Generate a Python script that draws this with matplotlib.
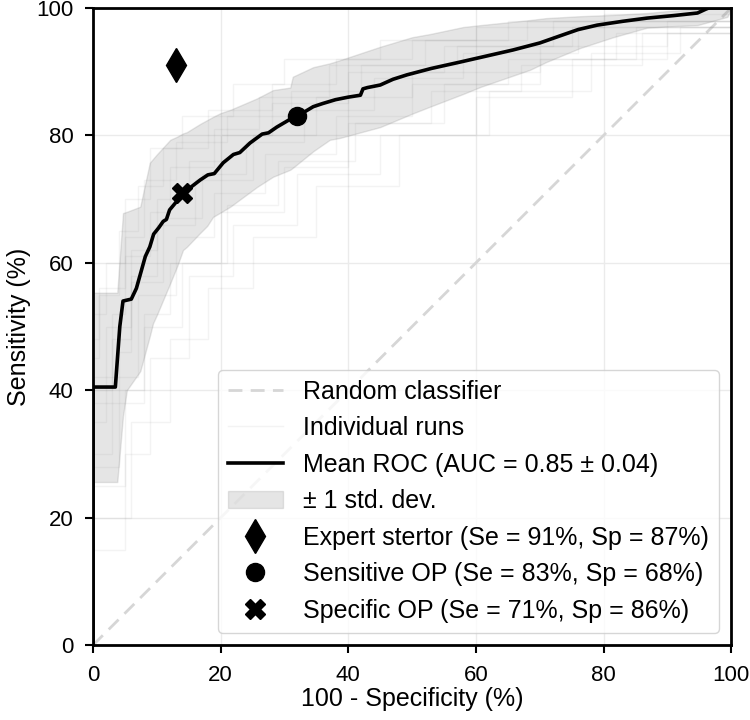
import matplotlib
matplotlib.use("Agg")
import matplotlib.pyplot as plt
import numpy as np

plt.rcParams['font.family'] = ['Liberation Sans', 'DejaVu Sans']

# Mean ROC curve (100 - specificity %, sensitivity %)
mean_fpr = [0, 0, 3.5, 4.2, 4.7, 6.0, 6.8, 7.5, 8.2, 8.9, 9.5, 10.3, 11, 11.5, 12, 13,
            14.4, 15.5, 16.8, 18, 19, 20.4, 22, 23, 24.6, 26.5, 27.5, 28.8, 30.5, 32,
            33, 34.5, 36, 38, 40, 41.9, 42.3, 43, 45, 47, 49.2, 53, 57.5, 61, 65.8,
            70, 73.7, 76, 79, 83, 86.8, 91, 94.7, 96, 96.5, 100]
mean_tpr = [0, 40.5, 40.5, 50, 54, 54.3, 56, 58.5, 61, 62.5, 64.5, 65.5, 66.5, 66.8,
            68.3, 69.5, 71, 72, 73, 73.8, 74, 75.7, 77, 77.3, 78.8, 80.2, 80.4, 81.3,
            82.3, 83.2, 83.6, 84.5, 85, 85.6, 86, 86.3, 87.3, 87.5, 87.9, 88.8, 89.5,
            90.5, 91.5, 92.3, 93.4, 94.5, 95.8, 96.6, 97.3, 97.9, 98.4, 98.8, 99.2,
            99.8, 100, 100]

# +/- 1 std band
band_fpr = [0, 3.8, 4.7, 5.3, 7.4, 8.9, 9.4, 10, 12.1, 13.2, 14.1, 14.7, 16.8, 17.9,
            18.8, 20, 21.5, 25.7, 28.2, 30.9, 31.3, 34.5, 37.1, 38.7, 45, 50, 52.8,
            58, 60.7, 68.5, 71, 76.3, 81.5, 86.8, 90, 94.7, 99.4, 100]
band_upper = [55.3, 55.3, 67.8, 68.0, 68.8, 75.7, 76.3, 77, 79.3, 79.8, 80.3, 80.5,
              81.8, 82.4, 82.9, 83.5, 84.0, 85.8, 87.1, 87.5, 89.2, 90.7, 91.3, 91.8,
              93.9, 95.4, 95.9, 97, 97.3, 98.1, 98.4, 98.7, 98.9, 99.2, 99.5, 99.8,
              100, 100]
band_lower = [25.6, 25.6, 36, 40, 43, 48.5, 50.5, 51.8, 56.8, 59.5, 62, 62.5, 64.7,
              65.8, 67.2, 67.9, 68.8, 71.9, 73.5, 74.6, 74.9, 77.5, 79.3, 79.6, 81.3,
              83.4, 84.5, 86.5, 87.6, 90.3, 91.5, 93.7, 95.4, 96.9, 97.1, 97.3, 98.6,
              100]

# Individual cross-validation runs (step curves)
runs_fpr = [
    [0, 0, 2, 5, 9, 14, 22, 30, 45, 60, 80, 100],
    [0, 0, 3, 6, 10, 16, 25, 35, 50, 70, 90, 100],
    [0, 0, 4, 8, 12, 20, 30, 40, 55, 70, 85, 100],
    [0, 0, 5, 9, 15, 22, 32, 45, 60, 75, 90, 100],
    [0, 0, 1, 4, 7, 11, 18, 28, 38, 50, 65, 100],
    [0, 0, 6, 12, 18, 25, 35, 48, 62, 78, 92, 100],
    [0, 0, 2, 6, 10, 15, 20, 28, 40, 55, 75, 100],
    [0, 0, 3, 7, 13, 19, 27, 38, 50, 65, 82, 100],
    [0, 0, 4, 6, 11, 17, 24, 33, 44, 58, 76, 100],
    [0, 0, 1, 5, 8, 13, 21, 31, 42, 57, 72, 100],
    [0, 0, 3, 5, 9, 12, 19, 26, 37, 52, 68, 100],
    [0, 0, 5, 8, 14, 21, 29, 41, 53, 67, 86, 100],
]
runs_tpr = [
    [0, 52, 60, 70, 78, 83, 88, 92, 95, 97, 99, 100],
    [0, 40, 48, 58, 66, 73, 80, 86, 90, 94, 98, 100],
    [0, 28, 38, 52, 60, 68, 75, 82, 88, 92, 97, 100],
    [0, 15, 30, 45, 58, 66, 74, 80, 86, 92, 96, 100],
    [0, 45, 55, 65, 72, 78, 84, 88, 92, 95, 98, 100],
    [0, 20, 35, 48, 56, 64, 72, 80, 87, 93, 97, 100],
    [0, 35, 50, 62, 70, 76, 80, 85, 90, 94, 97, 100],
    [0, 30, 42, 55, 64, 71, 77, 83, 88, 92, 96, 100],
    [0, 38, 46, 57, 67, 74, 79, 84, 89, 93, 97, 100],
    [0, 48, 56, 64, 73, 79, 83, 87, 91, 94, 98, 100],
    [0, 42, 52, 61, 68, 75, 81, 86, 91, 95, 98, 100],
    [0, 25, 40, 50, 60, 69, 76, 82, 87, 91, 96, 100],
]

# Operating points (100 - Sp, Se)
expert_pt = (13, 91)
sensitive_pt = (32, 83)
specific_pt = (14, 71)

labels = ["Random classifier", "Individual runs", "Mean ROC (AUC = 0.85 \u00b1 0.04)",
          "\u00b1 1 std. dev.", "Expert stertor (Se = 91%, Sp = 87%)",
          "Sensitive OP (Se = 83%, Sp = 68%)", "Specific OP (Se = 71%, Sp = 86%)"]

fig = plt.figure(figsize=(7.5, 7.2), dpi=100)
ax = fig.add_axes([0.124, 0.104, 0.851, 0.885])

ax.grid(True, color='#ebebeb', linewidth=1, zorder=0)
ax.set_axisbelow(True)

ax.plot([0, 100], [0, 100], linestyle=(0, (5, 3)), color='#d6d6d6', lw=2,
        label=labels[0], zorder=1)
for i, (f, t) in enumerate(zip(runs_fpr, runs_tpr)):
    ax.step(f, t, where='post', color='grey', alpha=0.09, lw=1,
            label=labels[1] if i == 0 else None, zorder=1)
ax.plot(mean_fpr, mean_tpr, color='black', lw=2.6, label=labels[2], zorder=3)
ax.fill_between(band_fpr, band_lower, band_upper, color='grey', alpha=0.2,
                label=labels[3], zorder=2)
ax.plot(*expert_pt, marker='d', color='black', ms=17, linestyle='none',
        label=labels[4], zorder=4)
ax.plot(*sensitive_pt, marker='o', color='black', ms=13, linestyle='none',
        label=labels[5], zorder=4)
ax.plot(*specific_pt, marker='X', color='black', ms=14, linestyle='none',
        label=labels[6], zorder=4)

ax.set_xlim(0, 100)
ax.set_ylim(0, 100)
ax.set_xticks([0, 20, 40, 60, 80, 100])
ax.set_yticks([0, 20, 40, 60, 80, 100])
ax.tick_params(labelsize=16, length=6, width=1.5, color='black', pad=8)
for s in ax.spines.values():
    s.set_linewidth(2)
    s.set_color('black')
ax.set_xlabel("100 - Specificity (%)", fontsize=18, labelpad=1)
ax.set_ylabel("Sensitivity (%)", fontsize=18, labelpad=4)

ax.legend(loc='lower right', borderaxespad=0.5,
          fontsize=18, framealpha=0.8, labelspacing=0.5, handlelength=2.2,
          handletextpad=0.8, borderpad=0.4)

fig.savefig("out.png", dpi=100)
